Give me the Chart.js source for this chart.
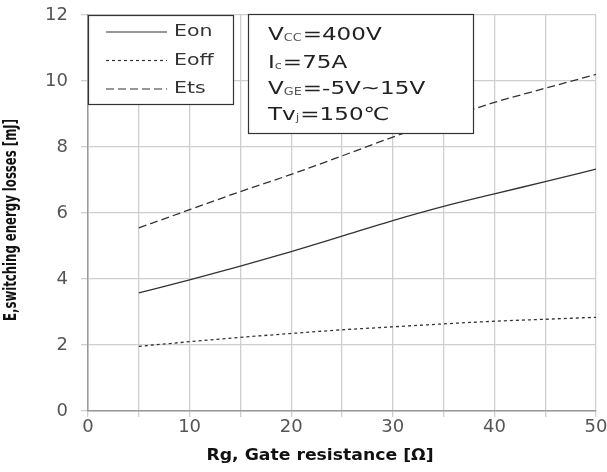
<!DOCTYPE html>
<html>
<head>
<meta charset="utf-8">
<script src="https://cdn.jsdelivr.net/npm/chart.js@4.4.1/dist/chart.umd.min.js"></script>
<style>
  html, body { margin: 0; padding: 0; background: #fff; }
  #wrap { width: 607px; height: 472px; }
</style>
</head>
<body>
<div id="wrap"><canvas id="lossChart" width="607" height="472"></canvas></div>
<script>
// gate resistance [ohm]
var rgValues = [5, 10, 15, 20, 25, 30, 35, 40, 45, 50];
// energy losses [mJ]
var eonValues  = [3.58, 3.97, 4.39, 4.83, 5.30, 5.77, 6.20, 6.58, 6.95, 7.33];
var eoffValues = [1.96, 2.10, 2.23, 2.35, 2.46, 2.55, 2.64, 2.72, 2.78, 2.84];
var etsValues  = [5.55, 6.10, 6.65, 7.17, 7.73, 8.30, 8.83, 9.35, 9.78, 10.20];
var seriesNames = ['Eon', 'Eoff', 'Ets'];
var xTickLabels = [0, 10, 20, 30, 40, 50];
var yTickLabels = [0, 2, 4, 6, 8, 10, 12];
var conditionLines = [
  ['V', 'CC', '=400V'],
  ['I', 'c', '=75A'],
  ['V', 'GE', '=-5V~15V'],
  ['Tv', 'j', '=150\u2103']
];

function toPoints(vals) {
  return rgValues.map(function (x, i) { return { x: x, y: vals[i] }; });
}

var lineColor = '#333';
var dashes = [[], [3, 3], [8, 4]];
var stretch = 1.28;   // text in the picture is drawn a bit wide

var ctxLoss = document.getElementById('lossChart').getContext('2d');

function wideText(ctx, txt, x, y) {
  ctx.save();
  ctx.translate(x, y);
  ctx.scale(stretch, 1);
  ctx.fillText(txt, 0, 0);
  ctx.restore();
  return ctx.measureText(txt).width * stretch;
}

// legend box + condition box + axis titles
const boxesPlugin = {
  id: 'boxesPlugin',
  afterDraw(chart) {
    const { ctx } = chart;
    ctx.save();

    // legend box
    ctx.fillStyle = '#fff';
    ctx.fillRect(88.5, 15.5, 145, 89);
    ctx.strokeStyle = '#333';
    ctx.lineWidth = 1.2;
    ctx.strokeRect(88.5, 15.5, 145, 89);
    chart.data.datasets.forEach(function (ds, i) {
      const y = 32 + i * 28.5;
      ctx.beginPath();
      ctx.setLineDash(ds.borderDash || []);
      ctx.strokeStyle = lineColor;
      ctx.lineWidth = 1.2;
      ctx.moveTo(106, y);
      ctx.lineTo(167, y);
      ctx.stroke();
      ctx.setLineDash([]);
      ctx.fillStyle = '#333';
      ctx.font = '16px "DejaVu Sans"';
      ctx.textAlign = 'left';
      ctx.textBaseline = 'middle';
      wideText(ctx, ds.label, 174, y);
    });

    // conditions box
    ctx.fillStyle = '#fff';
    ctx.fillRect(248.5, 14.5, 225, 119);
    ctx.strokeStyle = '#333';
    ctx.strokeRect(248.5, 14.5, 225, 119);
    const baselines = [40, 68, 94, 120];
    conditionLines.forEach(function (ln, i) {
      const y = baselines[i];
      let x = 268;
      ctx.textAlign = 'left';
      ctx.textBaseline = 'alphabetic';
      ctx.font = '18px "DejaVu Sans"';
      ctx.fillStyle = '#222';
      x += wideText(ctx, ln[0], x, y);
      ctx.font = '10px "DejaVu Sans"';
      ctx.fillStyle = '#555';
      x += wideText(ctx, ln[1], x, y + 1) + 1;
      ctx.font = '18px "DejaVu Sans"';
      ctx.fillStyle = '#222';
      wideText(ctx, ln[2], x, y);
    });

    // axis titles
    ctx.fillStyle = '#111';
    ctx.font = 'bold 15px "DejaVu Sans"';
    ctx.textAlign = 'center';
    ctx.textBaseline = 'middle';
    ctx.save();
    ctx.translate(320, 456);
    ctx.scale(1.15, 1);
    ctx.fillText('Rg, Gate resistance [\u03A9]', 0, 0);
    ctx.restore();

    ctx.translate(12, 220);
    ctx.scale(1.3, 1);
    ctx.rotate(-Math.PI / 2);
    ctx.font = 'bold 13px "DejaVu Sans Condensed"';
    ctx.fillText('E,switching energy losses [mJ]', 0, 0);
    ctx.restore();
  }
};

var lossChart = new Chart(ctxLoss, {
  type: 'line',
  data: {
    datasets: [eonValues, eoffValues, etsValues].map(function (vals, i) {
      return {
        label: seriesNames[i],
        data: toPoints(vals),
        borderColor: lineColor,
        borderWidth: 1.3,
        borderDash: dashes[i],
        pointRadius: 0,
        fill: false,
        cubicInterpolationMode: 'monotone'
      };
    })
  },
  options: {
    responsive: false,
    animation: false,
    layout: { padding: { top: 15, right: 11, bottom: 0, left: 0 } },
    plugins: {
      legend: { display: false },
      tooltip: { enabled: false }
    },
    scales: {
      x: {
        type: 'linear',
        min: 0,
        max: 50,
        afterFit: function (s) { s.height = 61; s.paddingLeft = 0; s.paddingRight = 0; },
        ticks: {
          stepSize: 5,
          maxRotation: 0,
          color: '#555',
          font: { family: 'DejaVu Sans', size: 18 },
          padding: 0,
          callback: function (v) { return xTickLabels.indexOf(v) >= 0 ? v : ''; }
        },
        grid: { color: '#cfcfcf', lineWidth: 1.3, tickLength: 6 },
        border: { color: '#999', width: 1.5 }
      },
      y: {
        min: 0,
        max: 12,
        afterFit: function (s) { s.width = 88; s.paddingTop = 0; s.paddingBottom = 0; },
        ticks: {
          stepSize: 2,
          color: '#555',
          font: { family: 'DejaVu Sans', size: 18 },
          padding: 13,
          callback: function (v) { return yTickLabels.indexOf(v) >= 0 ? v : ''; }
        },
        grid: { color: '#cfcfcf', lineWidth: 1.3, tickLength: 7 },
        border: { color: '#999', width: 1.5 }
      }
    }
  },
  plugins: [boxesPlugin]
});
</script>
</body>
</html>
